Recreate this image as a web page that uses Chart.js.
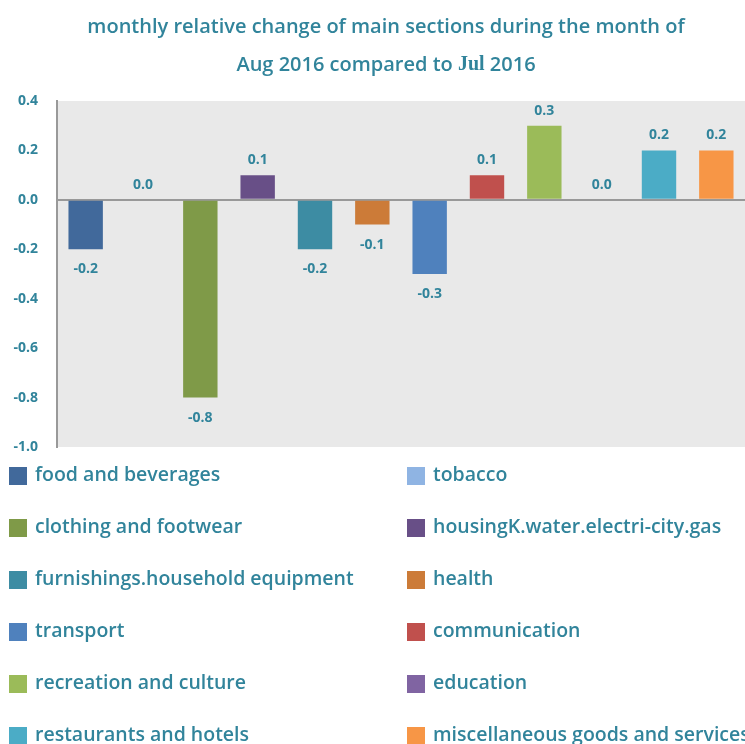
<!DOCTYPE html>
<html>
<head>
<meta charset="utf-8">
<script src="https://cdn.jsdelivr.net/npm/chart.js@4.4.1/dist/chart.umd.min.js"></script>
<style>
html,body{margin:0;padding:0;background:#fff;}
#wrap{position:relative;width:745px;height:744px;}
</style>
</head>
<body>
<div id="wrap"><canvas id="c" width="745" height="744"></canvas></div>
<script>
const categories = [
  'food and beverages', 'tobacco', 'clothing and footwear', 'housingK.water.electri-city.gas',
  'furnishings.household equipment', 'health', 'transport', 'communication',
  'recreation and culture', 'education', 'restaurants and hotels', 'miscellaneous goods and services'
];
const values = [-0.2, 0.0, -0.8, 0.1, -0.2, -0.1, -0.3, 0.1, 0.3, 0.0, 0.2, 0.2];
const colors = ['#41699b', '#8fb4e3', '#7f9a48', '#684f87', '#3d8ca3', '#cc7b38',
                '#4f81bd', '#c0504d', '#9bbb59', '#8064a2', '#4bacc6', '#f79646'];
const yTicks = [0.4, 0.2, 0.0, -0.2, -0.4, -0.6, -0.8, -1.0];
const titleLine1 = 'monthly relative change of main sections during the month of';
const titleLine2 = ['Aug 2016 compared to ', 'Jul', ' 2016'];

const TEAL = '#31849b';
const FONT = '"Open Sans", "Noto Sans", sans-serif';

const bgPlugin = {
  id: 'bg',
  beforeDraw(chart) {
    const {ctx, chartArea: a} = chart;
    ctx.save();
    ctx.fillStyle = '#e9e9e9';
    ctx.fillRect(a.left, a.top, a.right - a.left, a.bottom - a.top);
    ctx.restore();
  }
};

const labelPlugin = {
  id: 'vlabels',
  afterDatasetsDraw(chart) {
    const {ctx} = chart;
    const meta = chart.getDatasetMeta(0);
    ctx.save();
    ctx.font = 'bold 14px ' + FONT;
    ctx.fillStyle = TEAL;
    ctx.textAlign = 'center';
    ctx.textBaseline = 'middle';
    meta.data.forEach((bar, i) => {
      const v = values[i];
      const txt = v.toFixed(1);
      const ty = v < 0 ? bar.y + 20 : bar.y - 15;
      ctx.fillText(txt, bar.x, ty);
    });
    ctx.restore();
  }
};

const titlePlugin = {
  id: 'ttl',
  afterDraw(chart) {
    const {ctx} = chart;
    ctx.save();
    ctx.fillStyle = TEAL;
    ctx.textBaseline = 'middle';
    ctx.textAlign = 'center';
    const cx = 386;
    ctx.font = '600 20px ' + FONT;
    ctx.fillText(titleLine1, cx, 27);
    const fonts = ['600 20px ' + FONT, 'bold 20px "Liberation Serif", serif', '600 20px ' + FONT];
    let total = 0;
    const widths = titleLine2.map((s, i) => { ctx.font = fonts[i]; const w = ctx.measureText(s).width; total += w; return w; });
    let x = cx - total / 2;
    ctx.textAlign = 'left';
    titleLine2.forEach((s, i) => { ctx.font = fonts[i]; ctx.fillText(s, x, 65); x += widths[i]; });
    ctx.restore();
  }
};

const legendPlugin = {
  id: 'lgd',
  afterDraw(chart) {
    const {ctx} = chart;
    ctx.save();
    ctx.font = '600 19.5px ' + FONT;
    ctx.textBaseline = 'middle';
    ctx.textAlign = 'left';
    categories.forEach((name, i) => {
      const col = i % 2, row = Math.floor(i / 2);
      const bx = col === 0 ? 9 : 407;
      const cy = 475 + row * 52;
      ctx.fillStyle = colors[i];
      ctx.fillRect(bx, cy - 8, 18, 18);
      ctx.fillStyle = TEAL;
      ctx.fillText(name, bx + 26, cy);
    });
    ctx.restore();
  }
};

new Chart(document.getElementById('c'), {
  type: 'bar',
  data: {
    labels: categories,
    datasets: [{
      data: values,
      backgroundColor: colors,
      borderWidth: 0,
      categoryPercentage: 1.0,
      barPercentage: 0.6
    }]
  },
  options: {
    responsive: false,
    animation: false,
    layout: {padding: {top: 101, bottom: 297, left: 0, right: 0}},
    plugins: {legend: {display: false}, title: {display: false}, tooltip: {enabled: false}},
    scales: {
      x: {
        ticks: {display: false},
        grid: {display: false, drawTicks: false},
        border: {display: false},
        afterFit(s) { s.height = 0; }
      },
      y: {
        min: -1.0, max: 0.4,
        afterBuildTicks(s) { s.ticks = yTicks.map(v => ({value: v})); },
        ticks: {
          color: TEAL,
          font: {family: FONT, size: 14, weight: 'bold'},
          padding: 19,
          callback: v => Number(v).toFixed(1)
        },
        grid: {
          drawTicks: false,
          lineWidth: 2,
          color: ctx => (ctx.tick && Math.abs(ctx.tick.value) < 1e-9) ? '#999999' : 'rgba(0,0,0,0)'
        },
        border: {display: true, color: '#999999', width: 2},
        afterFit(s) { s.width = 57; }
      }
    }
  },
  plugins: [bgPlugin, labelPlugin, titlePlugin, legendPlugin]
});
</script>
</body>
</html>
